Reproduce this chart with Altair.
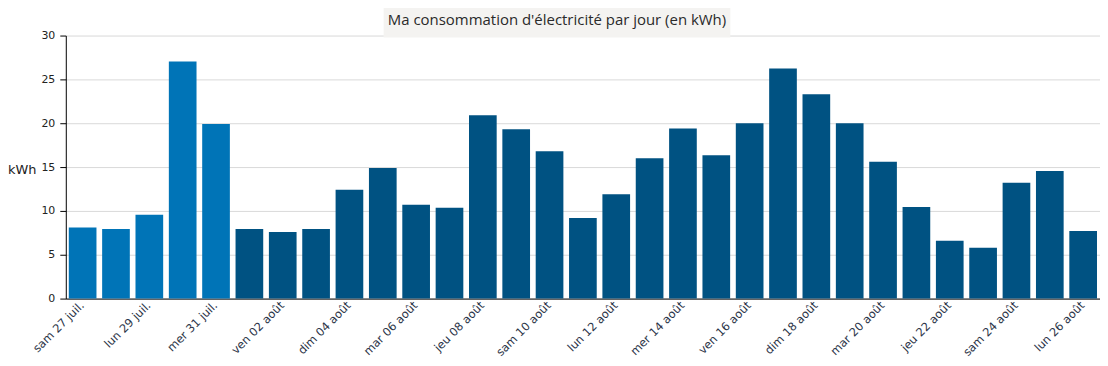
import altair as alt
import pandas as pd

days = [
    "sam 27 juil.", "dim 28 juil.", "lun 29 juil.", "mar 30 juil.", "mer 31 juil.",
    "jeu 01 août", "ven 02 août", "sam 03 août", "dim 04 août", "lun 05 août",
    "mar 06 août", "mer 07 août", "jeu 08 août", "ven 09 août", "sam 10 août",
    "dim 11 août", "lun 12 août", "mar 13 août", "mer 14 août", "jeu 15 août",
    "ven 16 août", "sam 17 août", "dim 18 août", "lun 19 août", "mar 20 août",
    "mer 21 août", "jeu 22 août", "ven 23 août", "sam 24 août", "dim 25 août",
    "lun 26 août",
]
kwh = [
    8.1, 7.95, 9.55, 27.05, 19.9,
    7.95, 7.6, 7.95, 12.4, 14.9,
    10.7, 10.35, 20.9, 19.3, 16.8,
    9.2, 11.9, 16.0, 19.4, 16.35,
    20.0, 26.25, 23.3, 20.0, 15.6,
    10.45, 6.6, 5.8, 13.2, 14.55,
    7.7,
]
months = ["juil." if "juil." in d else "août" for d in days]
shown_labels = days[::2]
y_ticks = [0, 5, 10, 15, 20, 25, 30]
title_text = "Ma consommation d'électricité par jour (en kWh)"

df = pd.DataFrame({"jour": days, "kwh": kwh, "mois": months})

FONT = "DejaVu Sans"

bars = alt.Chart(df).mark_bar().encode(
    x=alt.X(
        "jour:N",
        sort=days,
        scale=alt.Scale(paddingInner=0.17, paddingOuter=0.09),
        axis=alt.Axis(
            values=shown_labels,
            title=None,
            labelAngle=-45,
            labelAlign="right",
            labelBaseline="middle",
            labelPadding=5,
            ticks=False,
            domainColor="#000000",
            labelFont=FONT,
            labelFontSize=11.5,
            labelColor="#2b3448",
            grid=False,
        ),
    ),
    y=alt.Y(
        "kwh:Q",
        scale=alt.Scale(domain=[0, 30], nice=False),
        axis=alt.Axis(
            values=y_ticks,
            title="kWh",
            titleAngle=0,
            titleAlign="right",
            titleBaseline="middle",
            titleX=-30,
            titleY=134,
            titleFont=FONT,
            titleFontSize=13,
            titleFontWeight="normal",
            titleColor="#222222",
            labelFont=FONT,
            labelFontSize=11,
            labelColor="#222222",
            labelPadding=5,
            tickSize=6,
            tickColor="#000000",
            domainColor="#000000",
            gridColor="#d9d9d9",
        ),
    ),
    color=alt.Color(
        "mois:N",
        scale=alt.Scale(domain=["juil.", "août"], range=["#0074b7", "#005282"]),
        legend=None,
    ),
)

box = alt.Chart(pd.DataFrame({"t": [title_text]})).mark_rect(color="#f4f3f1").encode(
    x=alt.value(319), x2=alt.value(667), y=alt.value(-33), y2=alt.value(2)
)

title = alt.Chart(pd.DataFrame({"t": [title_text]})).mark_text(
    font="Open Sans", fontSize=15, color="#2a2a2a", align="center", baseline="middle"
).encode(text="t:N", x=alt.value(493), y=alt.value(-16))

chart = alt.layer(bars, box, title).properties(
    width=1038,
    height=264,
    autosize=alt.AutoSizeParams(type="none"),
    padding={"left": 58, "top": 27, "right": 0, "bottom": 66},
).configure_view(stroke=None)

chart.save("out.html", embed_options={"renderer": "svg", "actions": False})
